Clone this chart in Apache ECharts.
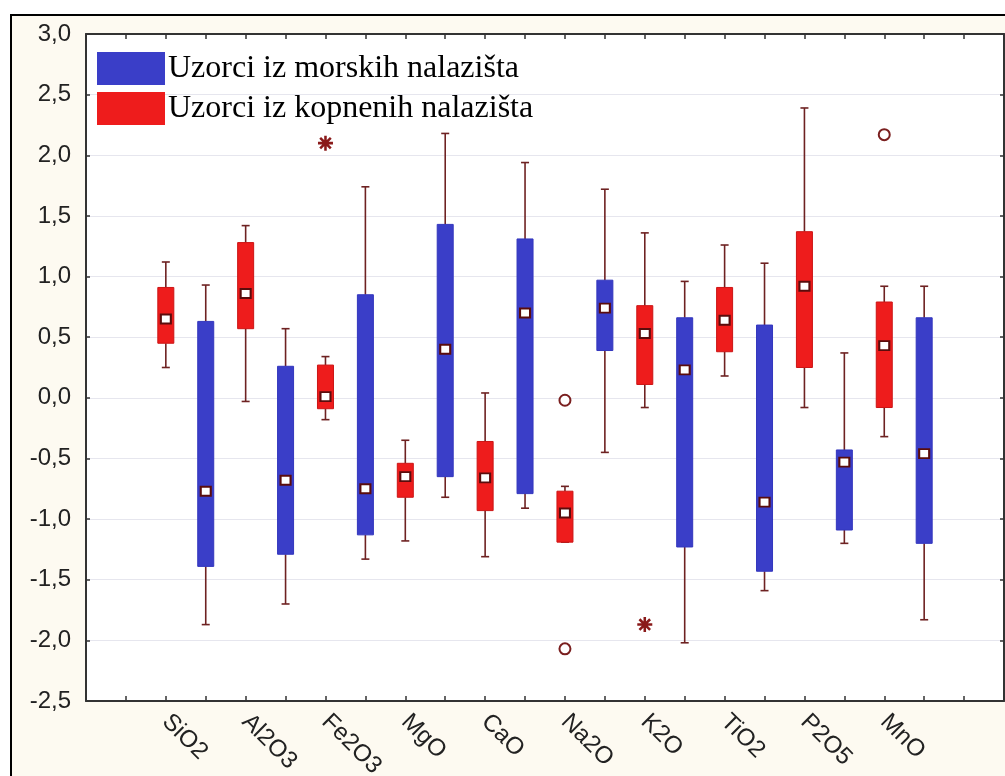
<!DOCTYPE html>
<html>
<head>
<meta charset="utf-8">
<script src="https://cdn.jsdelivr.net/npm/echarts@6/dist/echarts.min.js"></script>
<style>html,body{margin:0;padding:0;background:#fff}#c{width:1005px;height:776px}</style>
</head>
<body>
<div id="c"></div>
<script>
// ---- data ----
const categories = ['SiO2','Al2O3','Fe2O3','MgO','CaO','Na2O','K2O','TiO2','P2O5','MnO'];
// each row: [min, q1, median, q3, max]
const kopneni = [
  [0.25, 0.45, 0.65, 0.91, 1.12],
  [-0.03, 0.57, 0.86, 1.28, 1.42],
  [-0.18, -0.09, 0.01, 0.27, 0.34],
  [-1.18, -0.82, -0.65, -0.54, -0.35],
  [-1.31, -0.93, -0.66, -0.36, 0.04],
  [-1.19, -1.19, -0.95, -0.77, -0.73],
  [-0.08, 0.11, 0.53, 0.76, 1.36],
  [0.18, 0.38, 0.64, 0.91, 1.26],
  [-0.08, 0.25, 0.92, 1.37, 2.39],
  [-0.32, -0.08, 0.43, 0.79, 0.92]
];
const morski = [
  [-1.87, -1.39, -0.77, 0.63, 0.93],
  [-1.70, -1.29, -0.68, 0.26, 0.57],
  [-1.33, -1.13, -0.75, 0.85, 1.74],
  [-0.82, -0.65, 0.40, 1.43, 2.18],
  [-0.91, -0.79, 0.70, 1.31, 1.94],
  [-0.45, 0.39, 0.74, 0.97, 1.72],
  [-2.02, -1.23, 0.23, 0.66, 0.96],
  [-1.59, -1.43, -0.86, 0.60, 1.11],
  [-1.20, -1.09, -0.53, -0.43, 0.37],
  [-1.83, -1.20, -0.46, 0.66, 0.92]
];
// outliers: [category index, value]
const kopCircleOutliers = [[5, -0.02], [5, -2.07], [9, 2.17]];
const kopStarOutliers = [[2, 2.10], [6, -1.87]];
const yTicks = { min: -2.5, max: 3.0, step: 0.5 };
const seriesNames = ['Uzorci iz morskih nalazišta', 'Uzorci iz kopnenih nalazišta'];

// ---- helpers ----
const kopX = i => 2 + 2 * i;   // slot on axis for red box
const morX = i => 3 + 2 * i;   // slot on axis for blue box
const kopData = kopneni.map((r, i) => [kopX(i)].concat(r));
const morData = morski.map((r, i) => [morX(i)].concat(r));
const medianData = kopData.concat(morData).map(r => [r[0], r[3]]);

const WHISK = '#6e2222';
function renderBox(params, api) {
  const x = api.value(0);
  const pMin = api.coord([x, api.value(1)]);
  const pQ1 = api.coord([x, api.value(2)]);
  const pQ3 = api.coord([x, api.value(4)]);
  const pMax = api.coord([x, api.value(5)]);
  const cx = pMin[0];
  const half = 8, cap = 4;
  const fill = api.visual('color');
  const stroke = params.seriesIndex === 0 ? '#3336bd' : '#cc1414';
  const ls = { stroke: WHISK, lineWidth: 1.6 };
  return {
    type: 'group',
    children: [
      { type: 'line', shape: { x1: cx, y1: pMax[1], x2: cx, y2: pQ3[1] }, style: ls },
      { type: 'line', shape: { x1: cx, y1: pQ1[1], x2: cx, y2: pMin[1] }, style: ls },
      { type: 'line', shape: { x1: cx - cap, y1: pMax[1], x2: cx + cap, y2: pMax[1] }, style: ls },
      { type: 'line', shape: { x1: cx - cap, y1: pMin[1], x2: cx + cap, y2: pMin[1] }, style: ls },
      { type: 'rect', shape: { x: cx - half, y: pQ3[1], width: 2 * half, height: pQ1[1] - pQ3[1] },
        style: { fill: fill, stroke: stroke, lineWidth: 1 } }
    ]
  };
}

const starPath = 'path://M0 8.3L20 8.3L20 11.7L0 11.7Z M8.3 0L11.7 0L11.7 20L8.3 20Z M1.7 4.1L4.1 1.7L18.3 15.9L15.9 18.3Z M15.9 1.7L18.3 4.1L4.1 18.3L1.7 15.9Z';

const chart = echarts.init(document.getElementById('c'), null, { renderer: 'canvas' });
const axisCol = '#333';
const lineX = { show: true, onZero: false, lineStyle: { color: axisCol, width: 2 } };
chart.setOption({
  animation: false,
  backgroundColor: '#ffffff',
  graphic: [{
    type: 'rect', z: -100, silent: true,
    shape: { x: 11, y: 15, width: 1100, height: 900 },
    style: { fill: '#fdfaf1', stroke: '#000', lineWidth: 2 }
  }],
  grid: { left: 86, top: 34, right: 1, bottom: 75, show: true, backgroundColor: '#ffffff', borderWidth: 0,
          containLabel: false, outerBoundsMode: 'none' },
  legend: {
    orient: 'vertical', left: 97, top: 52, padding: 0,
    itemWidth: 68, itemHeight: 33, itemGap: 7, icon: 'rect',
    data: seriesNames,
    textStyle: { fontFamily: 'Liberation Serif', fontSize: 32, color: '#000', lineHeight: 33, padding: [0, 0, 0, -2] }
  },
  xAxis: [{
    type: 'value', min: 0, max: 23, interval: 1, position: 'bottom',
    axisLine: lineX,
    axisTick: { show: true, inside: true, length: 5, lineStyle: { color: axisCol, width: 1.5 } },
    splitLine: { show: false },
    axisLabel: {
      rotate: -45, margin: 17, fontFamily: 'Liberation Sans', fontSize: 24, color: '#222',
      showMinLabel: true, showMaxLabel: true,
      formatter: v => {
        const k = v - 2;
        if (k >= 0 && k % 2 === 0 && k / 2 < categories.length) return categories[k / 2];
        return '';
      }
    }
  }, {
    type: 'value', min: 0, max: 23, interval: 1, position: 'top',
    axisLine: lineX,
    axisTick: { show: true, inside: true, length: 5, lineStyle: { color: axisCol, width: 1.5 } },
    axisLabel: { show: false }, splitLine: { show: false }
  }],
  yAxis: [{
    type: 'value', min: yTicks.min, max: yTicks.max, interval: yTicks.step, position: 'left',
    axisLine: lineX,
    axisTick: { show: true, inside: true, length: 4, lineStyle: { color: axisCol, width: 1.5 } },
    splitLine: { show: true, lineStyle: { color: '#e6e6ee', width: 1 } },
    axisLabel: {
      margin: 15, fontFamily: 'Liberation Sans', fontSize: 24, color: '#222',
      formatter: v => v.toFixed(1).replace('.', ',')
    }
  }, {
    type: 'value', min: yTicks.min, max: yTicks.max, interval: yTicks.step, position: 'right',
    axisLine: lineX,
    axisTick: { show: true, inside: true, length: 4, lineStyle: { color: axisCol, width: 1.5 } },
    axisLabel: { show: false }, splitLine: { show: false }
  }],
  series: [
    {
      name: seriesNames[0], type: 'custom', renderItem: renderBox,
      itemStyle: { color: '#3a3ec8' },
      encode: { x: 0, y: [1, 2, 3, 4, 5] }, data: morData, z: 3
    },
    {
      name: seriesNames[1], type: 'custom', renderItem: renderBox,
      itemStyle: { color: '#ee1c1c' },
      encode: { x: 0, y: [1, 2, 3, 4, 5] }, data: kopData, z: 3
    },
    {
      name: 'median', type: 'scatter', data: medianData, z: 5,
      symbol: 'rect', symbolSize: [10, 9],
      itemStyle: { color: '#ffffff', borderColor: '#5a0c0c', borderWidth: 2, opacity: 1 }
    },
    {
      name: 'outlier', type: 'scatter', z: 5,
      data: kopCircleOutliers.map(o => [kopX(o[0]), o[1]]),
      symbol: 'circle', symbolSize: 11,
      itemStyle: { color: '#ffffff', borderColor: '#7a1f1f', borderWidth: 2, opacity: 1 }
    },
    {
      name: 'extreme', type: 'scatter', z: 5,
      data: kopStarOutliers.map(o => [kopX(o[0]), o[1]]),
      symbol: starPath, symbolSize: 15,
      itemStyle: { color: '#8a1a1a', opacity: 1 }
    }
  ]
});
</script>
</body>
</html>
